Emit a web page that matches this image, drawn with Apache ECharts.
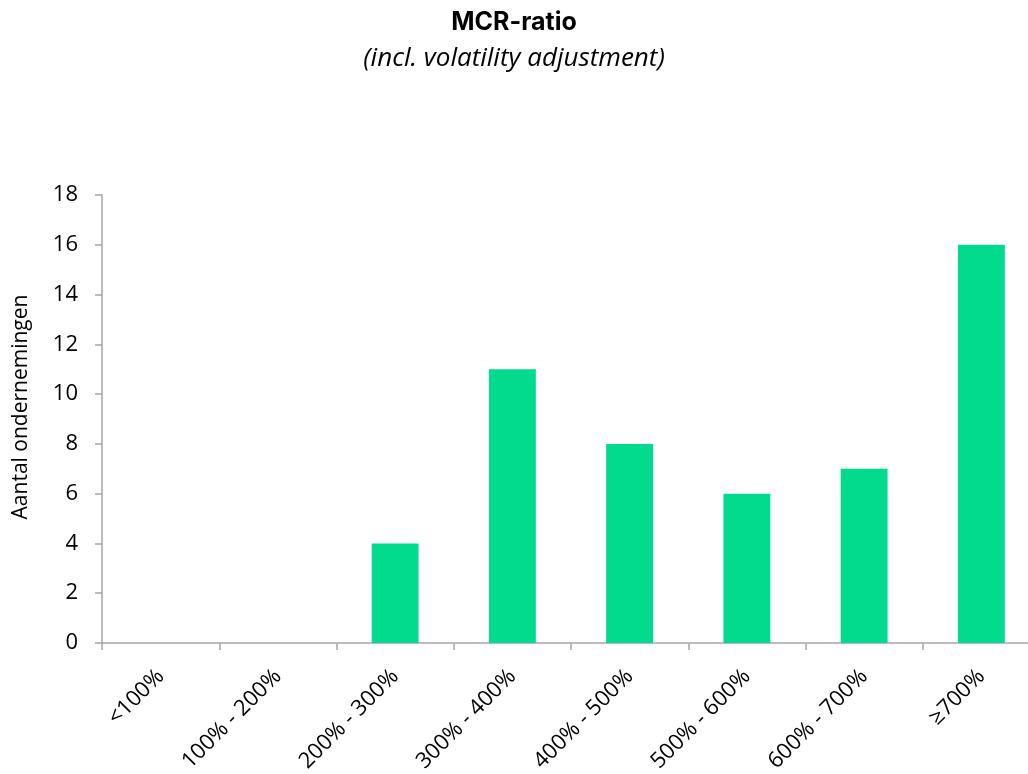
<!DOCTYPE html>
<html>
<head>
<meta charset="utf-8">
<script src="https://cdn.jsdelivr.net/npm/echarts@6/dist/echarts.min.js"></script>
<style>
html,body{margin:0;padding:0;background:#fff;}
#chart{width:1028px;height:774px;}
</style>
</head>
<body>
<div id="chart"></div>
<script>
// categorieen en aantallen
var categories = ['<100%', '100% - 200%', '200% - 300%', '300% - 400%', '400% - 500%', '500% - 600%', '600% - 700%', '≥700%'];
var counts = [0, 0, 4, 11, 8, 6, 7, 16];
var yTicks = [0, 2, 4, 6, 8, 10, 12, 14, 16, 18];

var axisGrey = '#a6a6a6';
var labelFont = 'Open Sans, Liberation Sans, sans-serif';

var option = {
	backgroundColor: '#fff',
	animation: false,
	title: {
		text: 'MCR-ratio',
		subtext: '(incl. volatility adjustment)',
		left: 'center',
		top: 5,
		itemGap: 11,
		textStyle: {
			fontFamily: 'Inter, Lato, sans-serif',
			fontSize: 25,
			fontWeight: 'bold',
			color: '#000'
		},
		subtextStyle: {
			fontFamily: 'Open Sans, Lato, sans-serif',
			fontSize: 26,
			fontStyle: 'italic',
			color: '#000'
		}
	},
	grid: {
		left: 102,
		right: -12,
		top: 195,
		bottom: 131,
		outerBoundsMode: 'none',
		containLabel: false
	},
	xAxis: {
		type: 'category',
		data: categories,
		axisLine: {show: true, lineStyle: {color: axisGrey, width: 1.5}},
		axisTick: {show: true, length: 7, lineStyle: {color: axisGrey, width: 1.5}},
		splitLine: {show: false},
		axisLabel: {
			rotate: 45,
			margin: 30,
			interval: 0,
			fontFamily: labelFont,
			fontSize: 22,
			color: '#000'
		}
	},
	yAxis: {
		type: 'value',
		min: yTicks[0],
		max: yTicks[yTicks.length - 1],
		interval: 2,
		name: 'Aantal ondernemingen',
		nameLocation: 'middle',
		nameGap: 70,
		nameRotate: 90,
		nameTextStyle: {fontFamily: labelFont, fontSize: 21, color: '#000', padding: [0, 0, 0, 24]},
		axisLine: {show: true, lineStyle: {color: axisGrey, width: 1.5}},
		axisTick: {show: true, length: 7, lineStyle: {color: axisGrey, width: 1.5}},
		splitLine: {show: false},
		axisLabel: {
			margin: 24,
			fontFamily: labelFont,
			fontSize: 22,
			color: '#000'
		}
	},
	series: [{
		type: 'bar',
		data: counts,
		barWidth: '40%',
		itemStyle: {color: '#02da8d'}
	}]
};

var myChart = echarts.init(document.getElementById('chart'));
myChart.setOption(option);
</script>
</body>
</html>
